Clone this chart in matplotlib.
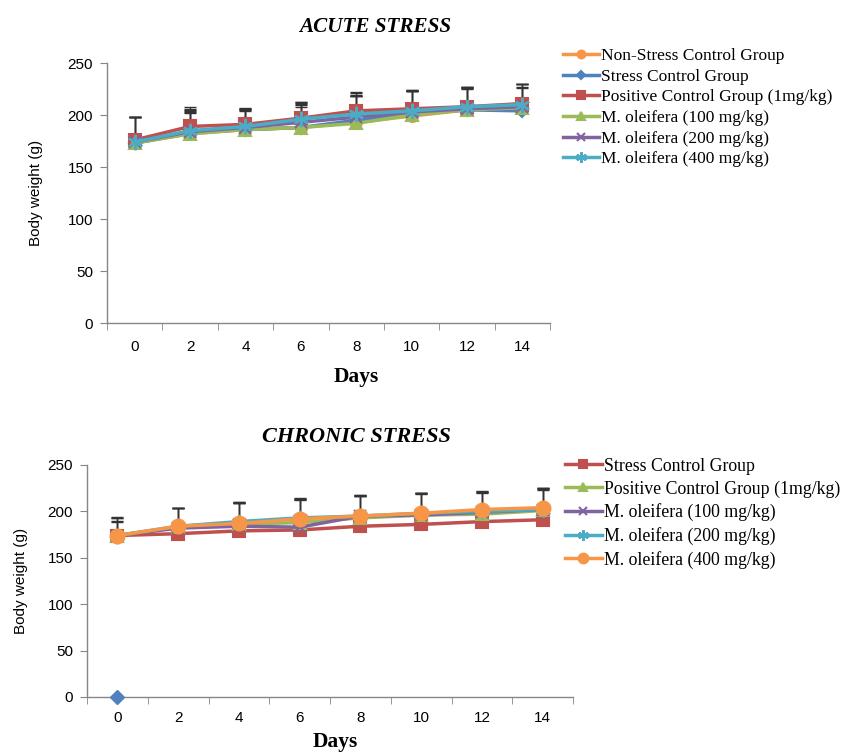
import matplotlib
matplotlib.use("Agg")
import matplotlib.pyplot as plt
import numpy as np

days = ["0", "2", "4", "6", "8", "10", "12", "14"]

acute_labels = ["Non-Stress Control Group", "Stress Control Group", "Positive Control Group (1mg/kg)",
                "M. oleifera (100 mg/kg)", "M. oleifera (200 mg/kg)", "M. oleifera (400 mg/kg)"]
acute_nonstress = [173, 182, 186, 188, 193, 199, 205, 207]
acute_stress = [173, 183, 186, 188, 195, 201, 205, 204]
acute_positive = [176, 189, 191, 197, 204, 206, 208, 211]
acute_m100 = [173, 182, 186, 188, 192, 200, 205, 207]
acute_m200 = [174, 184, 188, 193, 198, 203, 206, 208]
acute_m400 = [174, 185, 189, 196, 201, 204, 208, 210]
acute_err_nonstress = [25, 20, 18, 20, 25, 24, 20, 20]
acute_err_stress = [25, 22, 20, 22, 24, 22, 21, 22]
acute_err_positive = [22, 19, 16, 16, 18, 18, 19, 19]
acute_err_m100 = [25, 24, 20, 24, 26, 24, 22, 23]
acute_err_m200 = [24, 20, 18, 18, 20, 20, 20, 22]
acute_err_m400 = [24, 18, 16, 17, 20, 19, 19, 20]

chronic_labels = ["Stress Control Group", "Positive Control Group (1mg/kg)",
                  "M. oleifera (100 mg/kg)", "M. oleifera (200 mg/kg)", "M. oleifera (400 mg/kg)"]
chronic_stress = [174, 176, 179, 180, 184, 186, 189, 191]
chronic_positive = [174, 183, 186, 188, 193, 196, 197, 201]
chronic_m100 = [174, 182, 184, 183, 195, 196, 199, 202]
chronic_m200 = [174, 184, 189, 193, 195, 198, 200, 202]
chronic_m400 = [174, 184, 187, 192, 195, 198, 202, 204]
chronic_err_stress = [15, 28, 30, 32, 33, 33, 31, 32]
chronic_err_positive = [19, 21, 24, 26, 25, 24, 24, 24]
chronic_err_m100 = [16, 22, 26, 30, 23, 24, 22, 23]
chronic_err_m200 = [19, 20, 20, 20, 22, 22, 21, 22]
chronic_err_m400 = [20, 20, 22, 21, 22, 22, 20, 21]
chronic_stray_day = 0
chronic_stray_value = 0

BLUE, RED, GREEN, PURPLE, CYAN, ORANGE = "#4F81BD", "#C0504D", "#9BBB59", "#8064A2", "#4BACC6", "#F79646"

fig = plt.figure(figsize=(8.49, 7.54), dpi=100)
serif = "Liberation Serif"
sans = "Liberation Sans"

def style_axes(ax, ylabel, labelpad, xpad):
    ax.set_xlim(-0.5, 7.5)
    ax.set_ylim(0, 250)
    ax.set_yticks(range(0, 251, 50))
    ax.set_xticks(range(8))
    ax.set_xticklabels(days, fontfamily=sans, fontsize=11)
    ax.set_xticks(np.arange(-0.5, 8, 1), minor=True)
    ax.tick_params(axis="x", which="major", length=0, pad=xpad)
    ax.tick_params(axis="x", which="minor", length=5, color="#868686", direction="out")
    ax.tick_params(axis="y", length=5, color="#868686", labelsize=11, pad=5)
    for lab in ax.get_yticklabels():
        lab.set_fontfamily(sans)
    for s in ["top", "right"]:
        ax.spines[s].set_visible(False)
    for s in ["left", "bottom"]:
        ax.spines[s].set_color("#868686")
        ax.spines[s].set_linewidth(1)
    ax.set_ylabel(ylabel, fontfamily=sans, fontsize=11, labelpad=labelpad)

def series(ax, y, err, color, marker, label, ms=8, mew=1.5):
    x = np.arange(len(y))
    ax.errorbar(x, y, yerr=[np.zeros(len(err)), err], fmt="none", ecolor="#333333",
                elinewidth=0.9, capsize=4, capthick=1.0, zorder=2)
    ax.plot(x, y, color=color, lw=2.5, marker=marker, ms=ms, mfc=color, mec=color,
            mew=mew, label=label, zorder=3)

# Acute
ax1 = fig.add_axes([0.126, 0.5716, 0.522, 0.3448])
series(ax1, acute_nonstress, acute_err_nonstress, ORANGE, "o", acute_labels[0])
series(ax1, acute_stress, acute_err_stress, BLUE, "D", acute_labels[1], ms=6)
series(ax1, acute_positive, acute_err_positive, RED, "s", acute_labels[2])
series(ax1, acute_m100, acute_err_m100, GREEN, "^", acute_labels[3], ms=9)
series(ax1, acute_m200, acute_err_m200, PURPLE, "x", acute_labels[4], ms=9, mew=1.5)
series(ax1, acute_m400, acute_err_m400, CYAN, (6, 2, 0), acute_labels[5], ms=11, mew=1.5)
style_axes(ax1, "Body weight (g)", 18, 12)
leg1 = ax1.legend(loc="upper left", bbox_to_anchor=(1.013, 1.085), frameon=False,
                  prop={"family": serif, "size": 12.5}, handlelength=2.1, handletextpad=0.1,
                  labelspacing=0.26, borderaxespad=0, markerscale=0.7)
fig.text(375 / 849, 1 - 27 / 754, "ACUTE STRESS", ha="center", va="center",
         fontfamily=serif, fontweight="bold", fontstyle="italic", fontsize=15.2)
fig.text(356 / 849, 1 - 377 / 754, "Days", ha="center", va="center",
         fontfamily=serif, fontweight="bold", fontsize=15.5)

# Chronic
ax2 = fig.add_axes([0.1025, 0.0756, 0.5725, 0.3077])
series(ax2, chronic_stress, chronic_err_stress, RED, "s", chronic_labels[0])
series(ax2, chronic_positive, chronic_err_positive, GREEN, "^", chronic_labels[1], ms=9)
series(ax2, chronic_m100, chronic_err_m100, PURPLE, "x", chronic_labels[2], ms=9)
series(ax2, chronic_m200, chronic_err_m200, CYAN, (6, 2, 0), chronic_labels[3], ms=11)
series(ax2, chronic_m400, chronic_err_m400, ORANGE, "o", chronic_labels[4], ms=10)
ax2.plot([chronic_stray_day], [chronic_stray_value], marker="D", color=BLUE, ms=7,
         ls="none", clip_on=False, zorder=4)
style_axes(ax2, "Body weight (g)", 14, 10)
leg2 = ax2.legend(loc="upper left", bbox_to_anchor=(0.968, 1.062), frameon=False,
                  prop={"family": serif, "size": 12.8}, handlelength=2.1, handletextpad=0.1,
                  labelspacing=0.32, borderaxespad=0, markerscale=0.7)
fig.text(335 / 849, 1 - 742 / 754, "Days", ha="center", va="center",
         fontfamily=serif, fontweight="bold", fontsize=15.5)
fig.text(356 / 849, 1 - 437 / 754, "CHRONIC STRESS", ha="center", va="center",
         fontfamily=serif, fontweight="bold", fontstyle="italic", fontsize=16)

fig.savefig("out.png", dpi=100, facecolor="white")
